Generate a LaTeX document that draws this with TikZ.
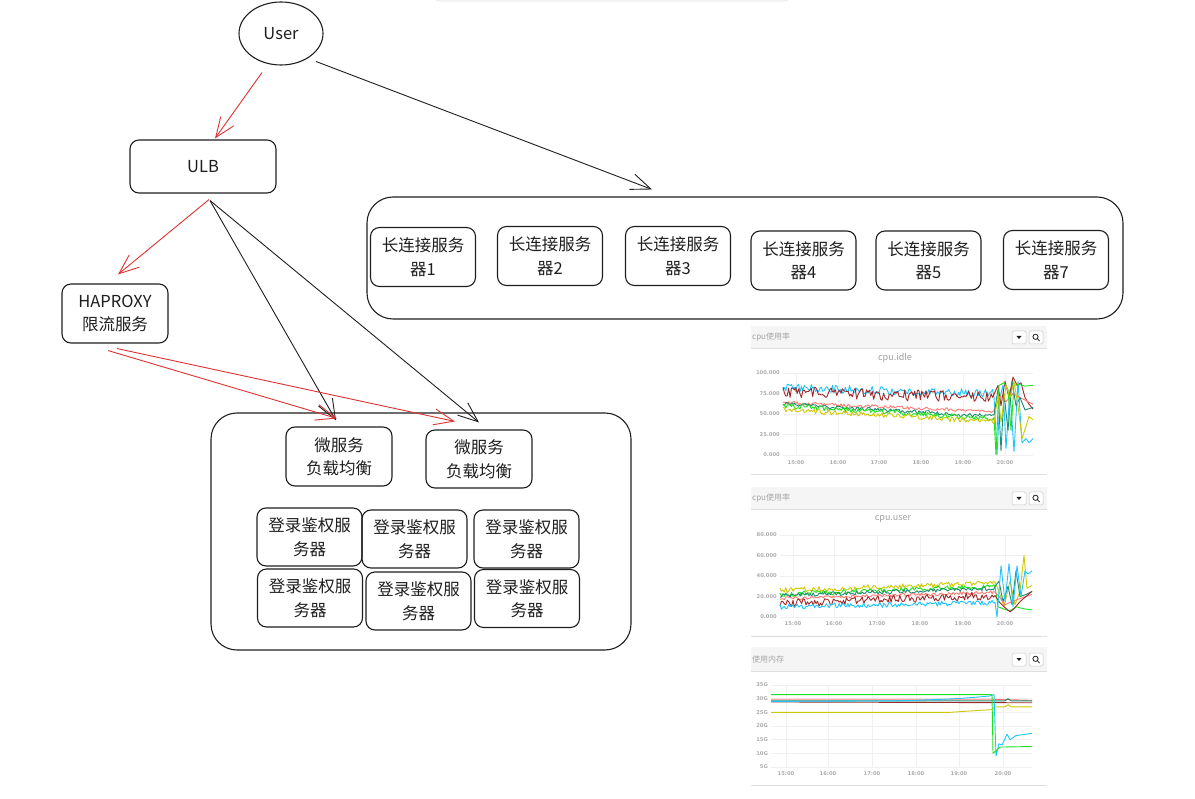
\documentclass[tikz,border=0pt]{standalone}
\usepackage{fontspec}
\setmainfont{Noto Sans CJK SC}
\newfontfamily\axisfont{DejaVu Sans}
\usetikzlibrary{arrows.meta,shapes.geometric}
\definecolor{ink}{HTML}{1E1E1E}
\definecolor{redline}{HTML}{E03131}
\definecolor{barbg}{HTML}{F5F5F5}
\definecolor{sky}{HTML}{1EC3FF}
\definecolor{brownred}{HTML}{A0282A}
\definecolor{salmon}{HTML}{FF7A72}
\definecolor{tealline}{HTML}{1F8B72}
\definecolor{limeline}{HTML}{1FE11F}
\definecolor{oliveline}{HTML}{CFC800}

\begin{document}
\begin{tikzpicture}[x=1pt, y=-1pt,
    every node/.style={font=\fontsize{16.5}{23.5}\selectfont, text=ink},
    box/.style={draw=ink, line width=1.1pt, rounded corners=9pt, align=center, inner sep=0pt},
    group/.style={draw=ink, line width=1.1pt, rounded corners=26pt, inner sep=0pt},
    arr/.style={draw=ink, line width=0.9pt, -{Straight Barb[length=20pt, width=16pt, line width=0.9pt]}},
    redarr/.style={arr, draw=redline},
    paneltitle/.style={font=\fontsize{8}{9}\selectfont, text=gray!70, anchor=west, inner sep=0pt},
    plottitle/.style={font=\fontsize{9}{10}\selectfont, text=gray!75, inner sep=0pt},
    axislabel/.style={font=\axisfont\bfseries\fontsize{5.2}{6}\selectfont, text=gray!65, inner sep=0pt},
    gridline/.style={draw=gray!12, line width=0.5pt},
    btnframe/.style={draw=gray!45, fill=white, line width=0.5pt, rounded corners=1.5pt},
    series/.style={line width=0.9pt, line join=round}]
  \useasboundingbox (0,0) rectangle (1195,799);
  \pgfmathsetseed{42}

  \draw[gray!25, line width=0.6pt, rounded corners=5pt, fill=white] (434,-12) rectangle (790,1);

  \node[draw=ink, line width=1.1pt, ellipse, minimum width=84pt, minimum height=63pt, inner sep=0pt] (user) at (281,33.5) {User};
  \node[box, minimum width=146pt, minimum height=53pt] (ulb) at (203,166.5) {ULB};
  \node[box, minimum width=106pt, minimum height=59pt] (haproxy) at (115,313.5) {HAPROXY\\限流服务};

  \node[group, minimum width=756pt, minimum height=122pt] (longconn) at (745,258) {};
  \foreach \n/\x/\y in {1/423/257, 2/550/256, 3/678/256, 4/803.5/260.5, 5/928.5/260.5, 7/1056/260}
    \node[box, minimum width=105pt, minimum height=59pt] (lc\n) at (\x,\y) {长连接服务\\器\n};

  \node[group, minimum width=420pt, minimum height=237pt] (authgroup) at (421,531.5) {};
  \node[box, minimum width=106pt, minimum height=59pt] (mlb1) at (339,456.5) {微服务\\负载均衡};
  \node[box, minimum width=106pt, minimum height=58pt] (mlb2) at (479,459) {微服务\\负载均衡};
  \foreach \n/\x/\y in {1/309.5/537, 2/414.5/539, 3/526.5/539, 4/310/598, 5/418.5/601, 6/527/598.5}
    \node[box, minimum width=105pt, minimum height=58pt] (auth\n) at (\x,\y) {登录鉴权服\\务器};

  \draw[redarr] ([shift={(-19,7)}]user.south) -- ([shift={(12,-1)}]ulb.north);
  \draw[arr] ([shift={(35,28)}]user.center) -- ([shift={(-93,-7)}]longconn.north);
  \draw[redarr] ([shift={(6,6)}]ulb.south) -- ([shift={(3,-9)}]haproxy.north);
  \draw[arr] ([shift={(7,7)}]ulb.south) -- ([shift={(-3,-6)}]mlb1.north);
  \draw[arr] ([shift={(7,7)}]ulb.south) -- ([shift={(0,-7)}]mlb2.north);
  \draw[redarr] ([shift={(-7,7)}]haproxy.south) -- ([shift={(-2,-8)}]mlb1.north);
  \draw[redarr] ([shift={(2,5)}]haproxy.south) -- ([shift={(-24,-8)}]mlb2.north);

  % cpu.idle
  \fill[barbg] (751,326) rectangle (1047,348);
  \draw[gray!25] (751,348) -- (1047,348) (751,474) -- (1047,474);
  \node[paneltitle] (idlehead) at (752,337) {cpu使用率};
  \draw[btnframe] (1012,331) rectangle (1026,344) (1029,331) rectangle (1043,344);
  \fill[ink] (1016.5,336) -- (1021.5,336) -- (1019,339) -- cycle;
  \draw[ink, line width=0.8pt] (1035.5,336.8) circle (2.6pt) (1037.4,338.7) -- (1039.6,341);
  \node[plottitle] (idletitle) at (895,358) {cpu.idle};
  \begin{scope}[shift={(0,455)}, yscale=-0.82]
    \foreach \v/\lab in {0/0.000, 25/25.000, 50/50.000, 75/75.000, 100/100.000} {
      \draw[gridline] (783,\v) -- (1033,\v);
      \node[axislabel, anchor=east] at (780,\v) {\lab};
    }
    \foreach \x in {796,838,879,921,963,1005} \draw[gridline] (\x,0) -- (\x,100);
    \draw[series, sky] plot[domain=783:994, samples=150, variable=\t] (\t,{82-7*(\t-783)/211+5*rand})
      -- (997,0) -- (1000,70) -- (1003,85) -- (1006,8) -- (1010,80) -- (1014,4) -- (1018,90) -- (1022,15) -- (1026,20) -- (1029,15) -- (1033,20);
    \draw[series, brownred] plot[domain=783:994, samples=150, variable=\t] (\t,{77-7*(\t-783)/211+7*rand})
      -- (998,85) -- (1001,60) -- (1005,90) -- (1009,70) -- (1013,95) -- (1017,85) -- (1021,88) -- (1025,70) -- (1029,62) -- (1033,56);
    \draw[series, salmon] plot[domain=783:994, samples=150, variable=\t] (\t,{64-11*(\t-783)/211+2*rand})
      -- (1000,72) -- (1006,65) -- (1013,75) -- (1020,70) -- (1033,62);
    \draw[series, tealline] plot[domain=783:994, samples=150, variable=\t] (\t,{62-15*(\t-783)/211+2.5*rand})
      -- (998,80) -- (1001,5) -- (1004,75) -- (1008,30) -- (1012,90) -- (1016,60) -- (1020,70) -- (1025,55) -- (1033,58);
    \draw[series, limeline] plot[domain=783:994, samples=150, variable=\t] (\t,{60-16*(\t-783)/211+3*rand})
      -- (996,0) -- (999,85) -- (1004,88) -- (1008,80) -- (1011,30) -- (1014,85) -- (1019,86) -- (1025,84) -- (1033,85);
    \draw[series, oliveline] plot[domain=783:994, samples=150, variable=\t] (\t,{55-14*(\t-783)/211+3*rand})
      -- (998,75) -- (1001,40) -- (1006,85) -- (1010,70) -- (1014,90) -- (1018,60) -- (1022,20) -- (1026,35) -- (1029,47) -- (1033,43);
  \end{scope}
  \foreach \x/\tm in {796/15:00, 838/16:00, 879/17:00, 921/18:00, 963/19:00, 1005/20:00}
    \node[axislabel] at (\x,463) {\tm};

  % cpu.user
  \fill[barbg] (751,487) rectangle (1047,509);
  \draw[gray!25] (751,509) -- (1047,509) (751,636) -- (1047,636);
  \node[paneltitle] (userhead) at (752,498) {cpu使用率};
  \draw[btnframe] (1012,492) rectangle (1026,505) (1029,492) rectangle (1043,505);
  \fill[ink] (1016.5,497) -- (1021.5,497) -- (1019,500) -- cycle;
  \draw[ink, line width=0.8pt] (1035.5,497.8) circle (2.6pt) (1037.4,499.7) -- (1039.6,502);
  \node[plottitle] (usertitle) at (893,519) {cpu.user};
  \begin{scope}[shift={(0,617)}, yscale=-1.025]
    \foreach \v/\lab in {0/0.000, 20/20.000, 40/40.000, 60/60.000, 80/80.000} {
      \draw[gridline] (780,\v) -- (1032,\v);
      \node[axislabel, anchor=east] at (777,\v) {\lab};
    }
    \foreach \x in {793,834,877,920,963,1005} \draw[gridline] (\x,0) -- (\x,80);
    \draw[series, oliveline] plot[domain=780:995, samples=150, variable=\t] (\t,{26+7*(\t-780)/215+2.5*rand})
      -- (999,25) -- (1004,10) -- (1010,35) -- (1015,12) -- (1020,25) -- (1024,60) -- (1027,28) -- (1032,31);
    \draw[series, limeline] plot[domain=780:995, samples=150, variable=\t] (\t,{22+8*(\t-780)/215+2.5*rand})
      -- (998,10) -- (1003,8) -- (1010,6) -- (1016,10) -- (1024,8) -- (1032,7);
    \draw[series, tealline] plot[domain=780:995, samples=150, variable=\t] (\t,{21+7*(\t-780)/215+2*rand})
      -- (999,35) -- (1003,15) -- (1008,30) -- (1012,12) -- (1016,45) -- (1020,20) -- (1026,22) -- (1032,25);
    \draw[series, salmon] plot[domain=780:995, samples=150, variable=\t] (\t,{18+6*(\t-780)/215+1.5*rand})
      -- (999,20) -- (1005,12) -- (1012,15) -- (1020,18) -- (1032,22);
    \draw[series, brownred] plot[domain=780:995, samples=150, variable=\t] (\t,{13+8*(\t-780)/215+4*rand})
      -- (999,15) -- (1004,10) -- (1010,5) -- (1014,8) -- (1020,15) -- (1026,20) -- (1032,25);
    \draw[series, sky] plot[domain=780:995, samples=150, variable=\t] (\t,{10+4*(\t-780)/215+2.5*rand})
      -- (997,0) -- (1001,50) -- (1005,15) -- (1009,52) -- (1013,10) -- (1017,50) -- (1021,20) -- (1025,45) -- (1028,42) -- (1032,45);
  \end{scope}
  \foreach \x/\tm in {793/15:00, 834/16:00, 877/17:00, 920/18:00, 963/19:00, 1005/20:00}
    \node[axislabel] at (\x,624) {\tm};

  % memory
  \fill[barbg] (751,647) rectangle (1047,671);
  \draw[gray!25] (751,671) -- (1047,671) (751,785) -- (1047,785);
  \node[paneltitle] (memhead) at (752,659) {使用内存};
  \draw[btnframe] (1012,653) rectangle (1026,666) (1029,653) rectangle (1043,666);
  \fill[ink] (1016.5,658) -- (1021.5,658) -- (1019,661) -- cycle;
  \draw[ink, line width=0.8pt] (1035.5,658.8) circle (2.6pt) (1037.4,660.7) -- (1039.6,663);
  \begin{scope}[shift={(0,780.67)}, yscale=-2.733]
    \foreach \v in {5,10,...,35} {
      \draw[gridline] (771,\v) -- (1032,\v);
      \node[axislabel, anchor=east] at (768,\v) {\v G};
    }
    \foreach \x in {786,828,872,916,959,1003} \draw[gridline] (\x,5) -- (\x,35);
    \draw[series, oliveline] (771,25) -- (950,25) .. controls (970,25.5) .. (992,26) -- (994,27) -- (1005,27) -- (1008,27.8) -- (1011,27) -- (1032,27);
    \draw[series, brownred] (771,28.8) -- (1032,28.5);
    \draw[series, salmon] (771,29.8) -- (992,29.8) -- (1032,29.4);
    \draw[series, tealline] (771,29.2) -- (1005,29.2) -- (1008,30) -- (1011,29.2) -- (1032,29.2);
    \draw[series, sky] (771,29) -- (900,29.2) .. controls (960,30) .. (990,31) -- (994,31.5) -- (996,9) -- (999,13.5) -- (1002,13) -- (1007,17) -- (1010,15) -- (1016,16.5) -- (1032,17.3);
    \draw[series, limeline] (771,31.5) -- (992,31.5) -- (993,10) -- (1000,12.3) -- (1032,12.5);
  \end{scope}
  \foreach \x/\tm in {786/15:00, 828/16:00, 872/17:00, 916/18:00, 959/19:00, 1003/20:00}
    \node[axislabel] at (\x,774) {\tm};
\end{tikzpicture}
\end{document}
